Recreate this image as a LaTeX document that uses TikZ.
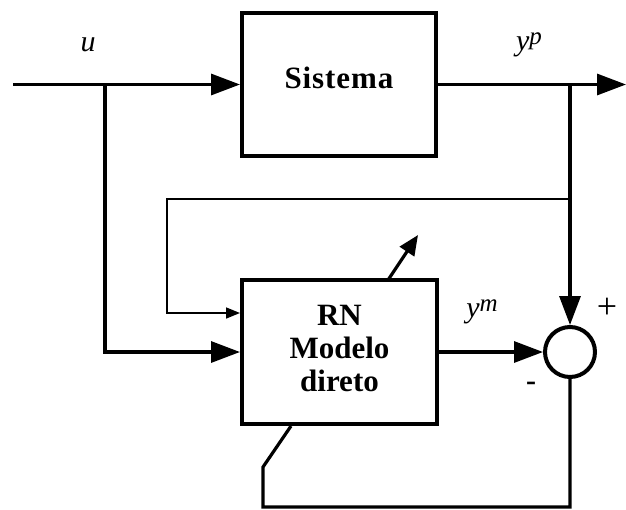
\documentclass[tikz,border=0pt]{standalone}
\usepackage{fontspec}
\setmainfont{Liberation Serif}
\usetikzlibrary{arrows.meta,calc}
\begin{document}
\begin{tikzpicture}[x=1pt,y=-1pt,
  blockbox/.style={draw,line width=4pt,inner sep=0pt},
  boxtext/.style={align=center,inner sep=0pt,
    font=\fontsize{31}{33}\selectfont\bfseries},
  mainline/.style={line width=3.2pt},
  thinline/.style={line width=1.6pt},
  bigtip/.style={-{Triangle[length=29pt,width=21pt]}},
  smalltip/.style={-{Triangle[length=14pt,width=11pt]}},
  lbl/.style={font=\fontsize{30}{32}\selectfont\itshape,inner sep=0pt},
  sgn/.style={font=\fontsize{36}{38}\selectfont,inner sep=0pt}]
\useasboundingbox (0,0) rectangle (626,509);

\node[blockbox,minimum width=194pt,minimum height=143pt] (sys) at (339,84.5) {};
\node[blockbox,minimum width=195pt,minimum height=144pt] (rn) at (339.5,352) {};
\node[boxtext] (systext) at ([yshift=7pt]sys.center) {\addfontfeature{LetterSpace=3}Sistema};
\node[boxtext] (rntext) at ([yshift=4pt]rn.center) {RN\\Modelo\\direto};
\node[draw,circle,line width=4pt,minimum size=50pt,inner sep=0pt] (sum) at (570,352) {};

\coordinate (in) at (13,84.5);
\coordinate (jn) at (105,84.5);
\coordinate (br) at (570,84.5);
\coordinate (out) at (626,84.5);
\coordinate (t1) at (570,199);
\coordinate (t2) at (167,199);
\coordinate (f1) at (263,507);
\coordinate (f2) at (263,467);
\coordinate (adj1) at (388,280);
\coordinate (adj2) at (418,235);

% input and system
\draw[mainline,bigtip] (in) -- (sys.west);
\draw[mainline,bigtip] (jn) |- (rn.west);
\draw[mainline,bigtip] (sys.east) -- (out);
\draw[mainline,bigtip] (br) -- (sum.north);
\draw[mainline,bigtip] (rn.east) -- (sum.west);

% thin line to model
\draw[thinline,smalltip] (t1) -- (t2) |- ([yshift=39pt]rn.west);

% feedback of error
\draw[mainline] (sum.south) |- (f1) -- (f2) -- ([xshift=-48.5pt]rn.south);

% adaptation arrow
\draw[mainline,-{Triangle[length=20pt,width=17pt]}] (adj1) -- (adj2);

% labels
\node[lbl] (lu) at (88,45) {u};
\node[lbl] (lyp) at (529,45) {y\raisebox{0.2em}{\fontsize{25}{26}\selectfont p}};
\node[lbl] (lym) at (482,312) {y\raisebox{0.2em}{\fontsize{25}{26}\selectfont m}};
\node[sgn] (plus) at (607,308) {+};
\node[sgn,font=\fontsize{30}{32}\selectfont\bfseries] (minus) at (531,386) {-};
\end{tikzpicture}
\end{document}
